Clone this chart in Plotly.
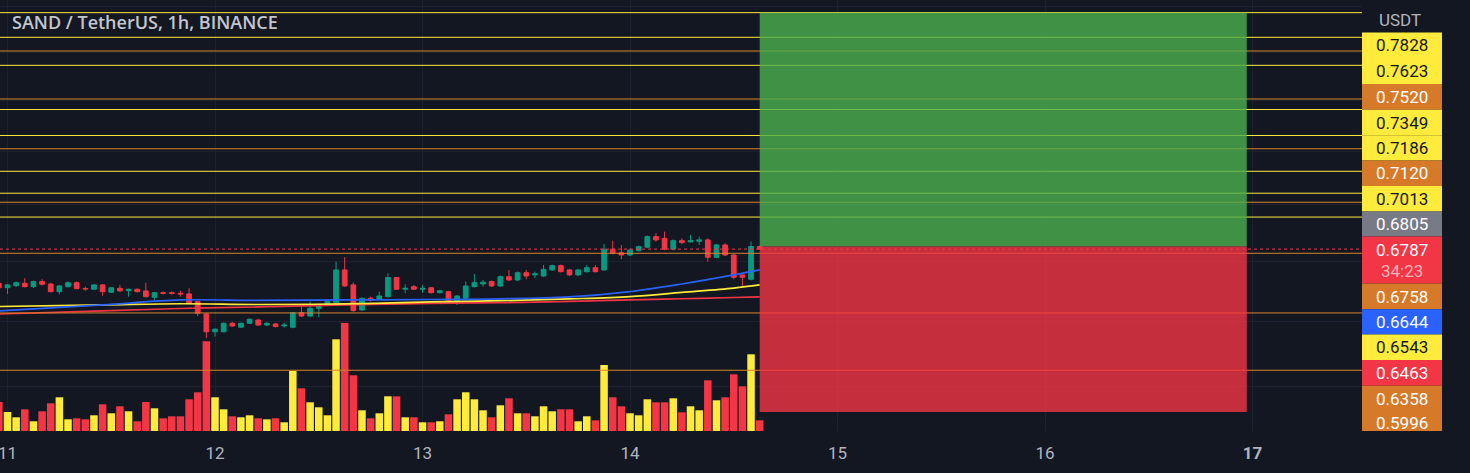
import plotly.graph_objects as go
import pandas as pd

# ---------------- data ----------------
start_time = "2023-12-10 23:00"
n_candles = 89
times = pd.date_range(start_time, periods=n_candles, freq="h")

opens = [0.6554, 0.6524, 0.6538, 0.6554, 0.6531, 0.6565, 0.6549, 0.6498, 0.6531, 0.6558,
         0.6519, 0.6514, 0.6543, 0.6494, 0.6520, 0.6504, 0.6514, 0.6503, 0.6461, 0.6491,
         0.6491, 0.6487, 0.6483, 0.6432, 0.6351, 0.6237, 0.6237, 0.6291, 0.6266, 0.6291,
         0.6312, 0.6280, 0.6287, 0.6274, 0.6266, 0.6360, 0.6338, 0.6388, 0.6410, 0.6425,
         0.6644, 0.6543, 0.6377, 0.6454, 0.6448, 0.6465, 0.6592, 0.6514, 0.6531, 0.6514,
         0.6524, 0.6491, 0.6498, 0.6432, 0.6454, 0.6531, 0.6549, 0.6565, 0.6536, 0.6598,
         0.6576, 0.6625, 0.6610, 0.6603, 0.6644, 0.6673, 0.6644, 0.6610, 0.6632, 0.6659,
         0.6644, 0.6786, 0.6762, 0.6746, 0.6776, 0.6800, 0.6874, 0.6862, 0.6786, 0.6846,
         0.6837, 0.6841, 0.6851, 0.6730, 0.6816, 0.6746, 0.6610, 0.6581, 0.6805]
highs = [0.6569, 0.6549, 0.6566, 0.6588, 0.6573, 0.6581, 0.6556, 0.6543, 0.6566, 0.6566,
         0.6531, 0.6549, 0.6549, 0.6529, 0.6543, 0.6519, 0.6519, 0.6558, 0.6496, 0.6499,
         0.6499, 0.6503, 0.6521, 0.6436, 0.6358, 0.6258, 0.6296, 0.6299, 0.6296, 0.6322,
         0.6319, 0.6299, 0.6293, 0.6295, 0.6364, 0.6417, 0.6432, 0.6417, 0.6443, 0.6700,
         0.6731, 0.6558, 0.6459, 0.6465, 0.6498, 0.6621, 0.6596, 0.6547, 0.6543, 0.6543,
         0.6529, 0.6509, 0.6503, 0.6476, 0.6565, 0.6617, 0.6576, 0.6573, 0.6606, 0.6644,
         0.6633, 0.6644, 0.6632, 0.6678, 0.6681, 0.6681, 0.6651, 0.6651, 0.6678, 0.6678,
         0.6823, 0.6846, 0.6816, 0.6791, 0.6812, 0.6882, 0.6898, 0.6909, 0.6854, 0.6862,
         0.6886, 0.6874, 0.6862, 0.6823, 0.6828, 0.6753, 0.6623, 0.6839, 0.6812]
lows = [0.6516, 0.6483, 0.6529, 0.6526, 0.6522, 0.6539, 0.6493, 0.6481, 0.6526, 0.6513,
        0.6504, 0.6509, 0.6471, 0.6489, 0.6497, 0.6465, 0.6493, 0.6459, 0.6443, 0.6479,
        0.6479, 0.6465, 0.6417, 0.6338, 0.6196, 0.6206, 0.6232, 0.6267, 0.6261, 0.6287,
        0.6274, 0.6274, 0.6264, 0.6263, 0.6259, 0.6332, 0.6332, 0.6330, 0.6404, 0.6420,
        0.6529, 0.6366, 0.6371, 0.6432, 0.6443, 0.6459, 0.6509, 0.6487, 0.6509, 0.6491,
        0.6486, 0.6486, 0.6427, 0.6410, 0.6450, 0.6526, 0.6531, 0.6529, 0.6529, 0.6569,
        0.6569, 0.6581, 0.6588, 0.6596, 0.6637, 0.6627, 0.6603, 0.6603, 0.6627, 0.6627,
        0.6637, 0.6750, 0.6717, 0.6739, 0.6771, 0.6793, 0.6839, 0.6779, 0.6779, 0.6823,
        0.6832, 0.6816, 0.6700, 0.6723, 0.6739, 0.6581, 0.6531, 0.6573, 0.6785]
closes = [0.6524, 0.6543, 0.6558, 0.6531, 0.6565, 0.6547, 0.6498, 0.6536, 0.6558, 0.6518,
          0.6516, 0.6543, 0.6498, 0.6524, 0.6503, 0.6514, 0.6498, 0.6465, 0.6491, 0.6487,
          0.6487, 0.6483, 0.6421, 0.6356, 0.6237, 0.6253, 0.6291, 0.6274, 0.6291, 0.6317,
          0.6280, 0.6291, 0.6270, 0.6280, 0.6360, 0.6338, 0.6388, 0.6410, 0.6436, 0.6644,
          0.6536, 0.6373, 0.6454, 0.6443, 0.6469, 0.6592, 0.6514, 0.6520, 0.6514, 0.6520,
          0.6491, 0.6504, 0.6432, 0.6469, 0.6536, 0.6558, 0.6561, 0.6536, 0.6598, 0.6576,
          0.6625, 0.6603, 0.6617, 0.6648, 0.6673, 0.6632, 0.6610, 0.6644, 0.6659, 0.6632,
          0.6786, 0.6758, 0.6746, 0.6781, 0.6804, 0.6874, 0.6851, 0.6786, 0.6846, 0.6832,
          0.6846, 0.6851, 0.6730, 0.6816, 0.6746, 0.6594, 0.6594, 0.6805, 0.6787]
volumes_k = [290, 190, 137, 217, 97, 197, 277, 337, 117, 127,
             117, 157, 267, 177, 247, 197, 97, 290, 227, 127,
             147, 147, 317, 387, 897, 337, 217, 147, 137, 157,
             127, 117, 127, 87, 600, 427, 287, 237, 157, 917,
             1080, 557, 207, 127, 177, 347, 347, 137, 137, 87,
             87, 97, 167, 317, 387, 317, 207, 137, 257, 327,
             177, 177, 147, 247, 197, 217, 217, 97, 147, 107,
             660, 337, 247, 177, 157, 317, 287, 287, 327, 187,
             247, 207, 507, 307, 337, 567, 447, 767, 107]

# moving averages read at selected candles
ma_idx = [0, 12, 21, 30, 40, 50, 58, 66, 73, 79, 85, 88]
ma_blue = [0.6371, 0.6410, 0.6443, 0.6440, 0.6443, 0.6446, 0.6450, 0.6463, 0.6498, 0.6549, 0.6610, 0.6644]
ma_yellow = [0.6400, 0.6410, 0.6418, 0.6413, 0.6417, 0.6430, 0.6438, 0.6450, 0.6465, 0.6493, 0.6522, 0.6543]
ma_red = [0.6351, 0.6371, 0.6387, 0.6397, 0.6410, 0.6420, 0.6425, 0.6433, 0.6443, 0.6451, 0.6459, 0.6463]

# horizontal levels
yellow_levels = [0.8643, 0.8428, 0.8190, 0.7828, 0.7623, 0.7349, 0.7186, 0.7013]
orange_levels = [0.8311, 0.7913, 0.7520, 0.7120, 0.6758, 0.6358, 0.5996]
last_price = 0.6787

# long position tool
pos_start = "2023-12-14 15:00"
pos_end = "2023-12-16 23:20"
pos_entry = 0.6805
pos_target = 0.8643
pos_stop = 0.5746

# price-scale labels (values shown on the right axis)
axis_labels = ["0.7828", "0.7623", "0.7520", "0.7349", "0.7186", "0.7120", "0.7013", "0.6805",
               "0.6787", "0.6758", "0.6644", "0.6543", "0.6463", "0.6358", "0.5996"]
countdown = "34:23"

day_ticks = pd.date_range("2023-12-11", periods=7, freq="D")
day_tick_text = ["11", "12", "13", "14", "15", "16", "<b>17</b>"]

# ---------------- styles / layout constants ----------------
BG = "#131722"
GREEN = "#089981"
RED = "#F23645"
VOL_UP = "#FFEB3B"
VOL_DN = "#F23645"
YEL_LINE = "#FFEB3B"
ORA_LINE = "#D9822B"
W, H = 1470, 473
PLOT_W, PLOT_H = 1362, 431
label_kinds = ["y", "y", "o", "y", "y", "o", "y", "g", "r", "o", "b", "y", "r", "o", "o"]
label_centers_px = [45, 71, 96.7, 122.7, 147.7, 173, 198.7, 224, 250, 296.7, 321.7, 347.3, 372.7, 398.7, 423.3]
label_bounds_px = [32.5, 58, 84, 109.7, 135.2, 160.4, 186, 211.4, 236.5, 283.5, 309.2, 334.5, 360, 385.7, 411, 431]
kind_bg = {"y": "#FFEB3B", "o": "#D67A2A", "g": "#787B86", "r": "#F23645", "b": "#2962FF"}
kind_fg = {"y": "#131722", "o": "#FFFFFF", "g": "#FFFFFF", "r": "#FFFFFF", "b": "#FFFFFF"}


def py(px):
    return 1 - px / PLOT_H


def px_x(px):
    return px / PLOT_W


fig = go.Figure()

vol_colors = [VOL_UP if c >= o else VOL_DN for o, c in zip(opens, closes)]
fig.add_trace(go.Bar(x=times, y=volumes_k, marker=dict(color=vol_colors, line=dict(width=0)),
                     width=0.87 * 3600 * 1000, yaxis="y2", showlegend=False, hoverinfo="skip"))

ma_times = [times[i] for i in ma_idx]
for vals, col in [(ma_red, "#F23645"), (ma_yellow, "#FFEB3B"), (ma_blue, "#2962FF")]:
    fig.add_trace(go.Scatter(x=ma_times, y=vals, mode="lines", line=dict(color=col, width=1.7, shape="spline"),
                             showlegend=False, hoverinfo="skip"))

fig.add_trace(go.Candlestick(x=times, open=opens, high=highs, low=lows, close=closes,
                             increasing=dict(line=dict(color=GREEN, width=1), fillcolor=GREEN),
                             decreasing=dict(line=dict(color=RED, width=1), fillcolor=RED),
                             whiskerwidth=0, showlegend=False))

shapes = []
for v in yellow_levels:
    shapes.append(dict(type="line", xref="paper", x0=0, x1=1, yref="y", y0=v, y1=v,
                       line=dict(color=YEL_LINE, width=1), layer="above"))
for v in orange_levels:
    shapes.append(dict(type="line", xref="paper", x0=0, x1=1, yref="y", y0=v, y1=v,
                       line=dict(color=ORA_LINE, width=1), layer="above"))
shapes.append(dict(type="line", xref="paper", x0=0, x1=1, yref="y", y0=last_price, y1=last_price,
                   line=dict(color=RED, width=1, dash="dot"), layer="above"))
shapes.append(dict(type="rect", xref="x", yref="y", x0=pos_start, x1=pos_end, y0=pos_entry, y1=pos_target,
                   fillcolor="rgba(76,175,80,0.8)", line=dict(width=0), layer="above"))
shapes.append(dict(type="rect", xref="x", yref="y", x0=pos_start, x1=pos_end, y0=pos_stop, y1=pos_entry,
                   fillcolor="rgba(242,54,69,0.8)", line=dict(width=0), layer="above"))

annotations = []
for i, (txt, kind) in enumerate(zip(axis_labels, label_kinds)):
    shapes.append(dict(type="rect", xref="paper", yref="paper", x0=px_x(1362), x1=px_x(1442),
                       y0=py(label_bounds_px[i + 1]), y1=py(label_bounds_px[i]),
                       fillcolor=kind_bg[kind], line=dict(width=0), layer="above"))
    annotations.append(dict(xref="paper", yref="paper", x=px_x(1402), y=py(label_centers_px[i]),
                            text=txt, showarrow=False, xanchor="center", yanchor="middle",
                            font=dict(family="Roboto", size=17, color=kind_fg[kind])))
annotations.append(dict(xref="paper", yref="paper", x=px_x(1402), y=py(270.7), text=countdown,
                        showarrow=False, xanchor="center", yanchor="middle",
                        font=dict(family="Roboto", size=17, color="#F9B3B9")))
annotations.append(dict(xref="paper", yref="paper", x=px_x(1400), y=py(20), text="USDT",
                        showarrow=False, xanchor="center", yanchor="middle",
                        font=dict(family="Roboto", size=17, color="#B2B5BE")))
annotations.append(dict(xref="paper", yref="paper", x=px_x(10), y=py(22),
                        text="SAND / TetherUS, 1h, BINANCE", showarrow=False,
                        xanchor="left", yanchor="middle",
                        font=dict(family="Open Sans", size=18, color="#C3C6CE", weight=600)))

x_left = pd.Timestamp("2023-12-12 00:00") - pd.Timedelta(hours=215 / 8.646)
x_right = pd.Timestamp("2023-12-12 00:00") + pd.Timedelta(hours=(1362 - 215) / 8.646)

fig.update_layout(
    width=W, height=H,
    margin=dict(l=0, r=W - PLOT_W, t=0, b=H - PLOT_H),
    paper_bgcolor=BG, plot_bgcolor=BG,
    boxgap=0.22,
    shapes=shapes, annotations=annotations,
    xaxis=dict(type="date", range=[x_left, x_right], rangeslider=dict(visible=False),
               tickvals=list(day_ticks), ticktext=day_tick_text, showgrid=True, gridcolor="#1c2030",
               gridwidth=1, zeroline=False, showline=False, ticks="", ticklabelstandoff=10,
               ticklabeloverflow="allow", automargin=False,
               tickfont=dict(family="Roboto", size=17, color="#B2B5BE")),
    yaxis=dict(type="log", range=[-0.24911, -0.05771], side="right", showticklabels=False,
               tickvals=[0.59, 0.63, 0.67, 0.71, 0.75, 0.79, 0.83, 0.87], automargin=False,
               showgrid=True, gridcolor="#1c2030", zeroline=False, showline=False, fixedrange=True),
    yaxis2=dict(overlaying="y", range=[0, 4310], visible=False, showgrid=False),
    font=dict(family="Roboto", color="#B2B5BE"),
    hovermode=False,
)

fig.write_html("out.html")
